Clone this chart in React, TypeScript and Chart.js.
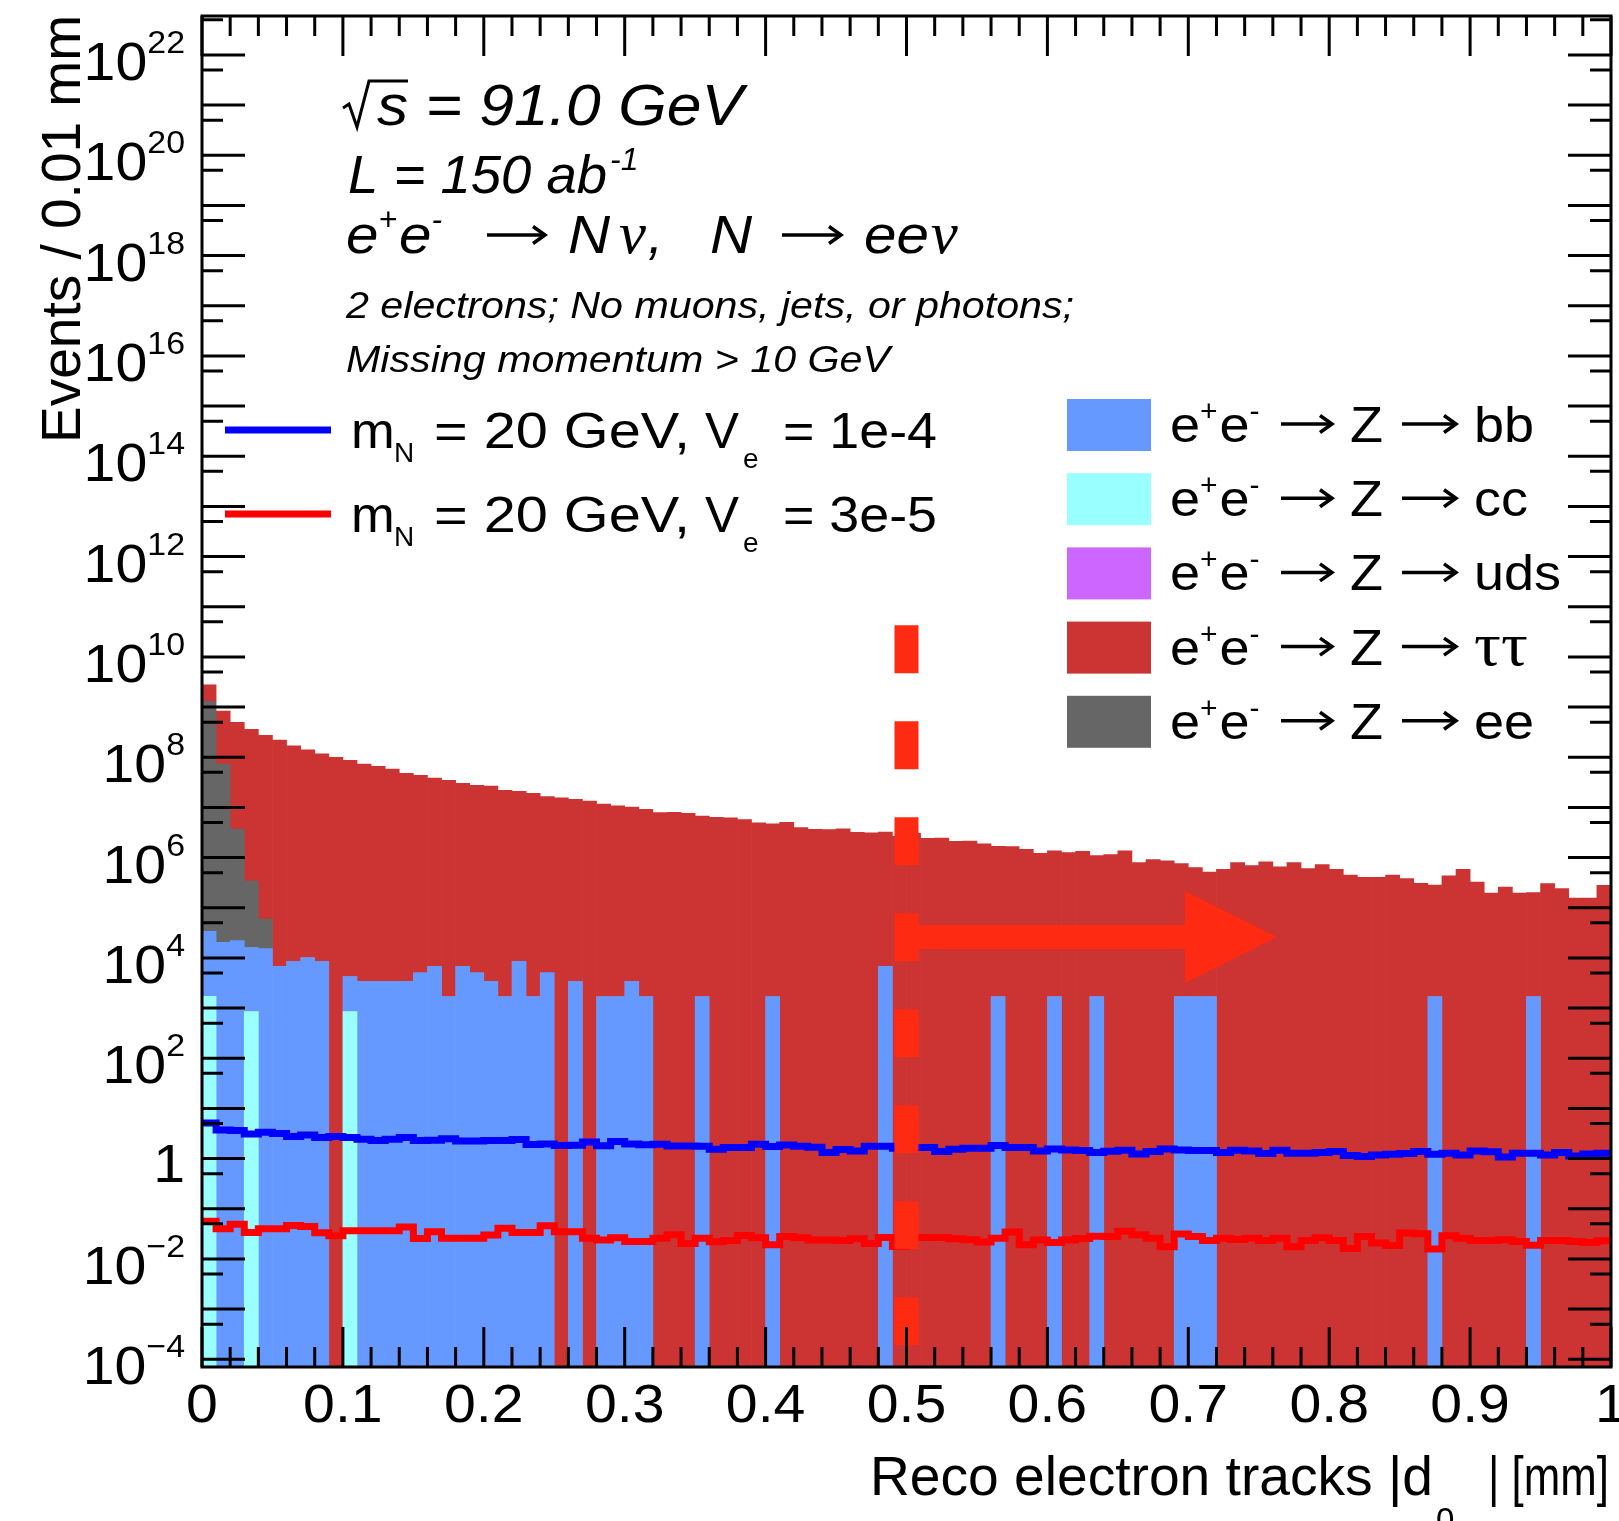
import React, { useEffect, useRef } from "react";
import { Chart, registerables } from "chart.js";

Chart.register(...registerables);

// ---------------- axis definitions ----------------
const X_MIN = 0;
const X_MAX = 1;
const N_BINS = 100;
const Y_MIN = 7.5e-5;
const Y_MAX = 5.97e22;

const X_TICK_VALUES = [0, 0.1, 0.2, 0.3, 0.4, 0.5, 0.6, 0.7, 0.8, 0.9, 1];
const X_TICK_LABELS = ["0", "0.1", "0.2", "0.3", "0.4", "0.5", "0.6", "0.7", "0.8", "0.9", "1"];
const Y_LABEL_EXPONENTS = [22, 20, 18, 16, 14, 12, 10, 8, 6, 4, 2, 0, -2, -4];

// ---------------- background stack (events / bin) ----------------
const CC = [
  1710, 0, 0, 855, 0, 0, 0, 0, 0, 0,
  855, 0, 0, 0, 0, 0, 0, 0, 0, 0,
  0, 0, 0, 0, 0, 0, 0, 0, 0, 0,
  0, 0, 0, 0, 0, 0, 0, 0, 0, 0,
  0, 0, 0, 0, 0, 0, 0, 0, 0, 0,
  0, 0, 0, 0, 0, 0, 0, 0, 0, 0,
  0, 0, 0, 0, 0, 0, 0, 0, 0, 0,
  0, 0, 0, 0, 0, 0, 0, 0, 0, 0,
  0, 0, 0, 0, 0, 0, 0, 0, 0, 0,
  0, 0, 0, 0, 0, 0, 0, 0, 0, 0,
];

const BB = [
  32300, 20400, 22100, 15300, 15300, 6800, 8500, 10200, 8500, 0,
  3400, 3400, 3400, 3400, 3400, 5100, 6800, 1700, 6800, 5100,
  3400, 1700, 8500, 1700, 5100, 0, 3400, 0, 1700, 1700,
  3400, 1700, 0, 0, 0, 1700, 0, 0, 0, 0,
  1700, 0, 0, 0, 0, 0, 0, 0, 6800, 0,
  0, 0, 0, 0, 0, 0, 1700, 0, 0, 0,
  1700, 0, 0, 1700, 0, 0, 0, 0, 0, 1700,
  1700, 1700, 0, 0, 0, 0, 0, 0, 0, 0,
  0, 0, 0, 0, 0, 0, 0, 1700, 0, 0,
  0, 0, 0, 0, 1700, 0, 0, 0, 0, 0,
];

const UDS = [
  0, 0, 0, 0, 0, 0, 0, 0, 0, 0,
  0, 0, 0, 0, 0, 0, 0, 0, 0, 0,
  0, 0, 0, 0, 0, 0, 0, 0, 0, 0,
  0, 0, 0, 0, 0, 0, 0, 0, 0, 0,
  0, 0, 0, 0, 0, 0, 0, 0, 0, 0,
  0, 0, 0, 0, 0, 0, 0, 0, 0, 0,
  0, 0, 0, 0, 0, 0, 0, 0, 0, 0,
  0, 0, 0, 0, 0, 0, 0, 0, 0, 0,
  0, 0, 0, 0, 0, 0, 0, 0, 0, 0,
  0, 0, 0, 0, 0, 0, 0, 0, 0, 0,
];

const EE = [
  1.30e9, 7.33e7, 3.66e6, 3.22e5, 4.4e4, 0, 0, 0, 0, 0,
  0, 0, 0, 0, 0, 0, 0, 0, 0, 0,
  0, 0, 0, 0, 0, 0, 0, 0, 0, 0,
  0, 0, 0, 0, 0, 0, 0, 0, 0, 0,
  0, 0, 0, 0, 0, 0, 0, 0, 0, 0,
  0, 0, 0, 0, 0, 0, 0, 0, 0, 0,
  0, 0, 0, 0, 0, 0, 0, 0, 0, 0,
  0, 0, 0, 0, 0, 0, 0, 0, 0, 0,
  0, 0, 0, 0, 0, 0, 0, 0, 0, 0,
  0, 0, 0, 0, 0, 0, 0, 0, 0, 0,
];

const TAUTAU = [
  1.48e9, 7.6e8, 4.92e8, 3.59e8, 2.73e8, 2.20e8, 1.69e8, 1.41e8, 1.17e8, 9.95e7,
  8.67e7, 7.33e7, 6.58e7, 5.82e7, 4.79e7, 4.37e7, 3.85e7, 3.47e7, 3.02e7, 2.75e7,
  2.67e7, 2.19e7, 2.09e7, 1.91e7, 1.64e7, 1.56e7, 1.45e7, 1.34e7, 1.17e7, 1.07e7,
  1.02e7, 9.18e6, 7.85e6, 7.98e6, 7.62e6, 6.75e6, 6.35e6, 6.17e6, 5.70e6, 4.90e6,
  4.68e6, 5.06e6, 3.95e6, 3.66e6, 3.61e6, 3.72e6, 3.20e6, 3.10e6, 3.20e6, 2.66e6,
  3.05e6, 2.43e6, 2.46e6, 2.11e6, 2.14e6, 1.87e6, 1.68e6, 1.65e6, 1.46e6, 1.22e6,
  1.36e6, 1.26e6, 1.33e6, 1.09e6, 1.15e6, 1.36e6, 7.94e5, 9.12e5, 8.59e5, 7.57e5,
  6.31e5, 5.11e5, 5.86e5, 7.94e5, 6.92e5, 8.20e5, 6.52e5, 7.94e5, 6.03e5, 7.24e5,
  5.86e5, 4.46e5, 4.06e5, 4.06e5, 4.46e5, 3.81e5, 3.08e5, 2.81e5, 4.32e5, 5.86e5,
  3.23e5, 1.95e5, 2.57e5, 1.95e5, 1.98e5, 3.03e5, 2.41e5, 1.55e5, 1.55e5, 2.81e5,
];

// ---------------- signal histograms ----------------
const SIG_VE_1E4 = [
  5.14, 3.73, 3.61, 3.10, 3.35, 3.15, 2.74, 2.96, 2.62, 2.74,
  2.62, 2.43, 2.28, 2.43, 2.62, 2.28, 2.32, 2.47, 2.25, 2.25,
  2.28, 2.28, 2.39, 1.90, 1.96, 1.82, 1.84, 2.15, 1.80, 2.18,
  1.96, 1.89, 1.93, 1.79, 1.79, 1.77, 1.53, 1.66, 1.66, 1.93,
  1.74, 1.87, 1.77, 1.68, 1.32, 1.51, 1.42, 1.77, 1.77, 1.61,
  1.66, 1.66, 1.38, 1.53, 1.61, 1.61, 1.82, 1.66, 1.66, 1.42,
  1.56, 1.49, 1.45, 1.32, 1.40, 1.47, 1.24, 1.38, 1.56, 1.49,
  1.45, 1.45, 1.32, 1.47, 1.42, 1.26, 1.47, 1.28, 1.28, 1.32,
  1.38, 1.15, 1.10, 1.18, 1.22, 1.26, 1.38, 1.22, 1.28, 1.18,
  1.42, 1.36, 1.08, 1.28, 1.28, 1.18, 1.32, 1.13, 1.24, 1.28,
];

const SIG_VE_3E5 = [
  0.0565, 0.0398, 0.0492, 0.0337, 0.0398, 0.0398, 0.0463, 0.0443, 0.0333, 0.0290,
  0.0364, 0.0364, 0.0364, 0.0364, 0.0430, 0.0256, 0.0348, 0.0259, 0.0259, 0.0259,
  0.0298, 0.0410, 0.0337, 0.0337, 0.0457, 0.0348, 0.0348, 0.0259, 0.0237, 0.0264,
  0.0223, 0.0223, 0.0259, 0.0303, 0.0203, 0.0259, 0.0219, 0.0233, 0.0294, 0.0264,
  0.0191, 0.0281, 0.0264, 0.0237, 0.0237, 0.0233, 0.0252, 0.0203, 0.0268, 0.0177,
  0.0268, 0.0268, 0.0268, 0.0252, 0.0240, 0.0216, 0.0259, 0.0342, 0.0191, 0.0237,
  0.0213, 0.0237, 0.0256, 0.0284, 0.0281, 0.0355, 0.0303, 0.0259, 0.0175, 0.0312,
  0.0281, 0.0233, 0.0259, 0.0244, 0.0259, 0.0233, 0.0259, 0.0175, 0.0233, 0.0264,
  0.0233, 0.0162, 0.0281, 0.0207, 0.0185, 0.0327, 0.0317, 0.0157, 0.0289, 0.0259,
  0.0233, 0.0233, 0.0240, 0.0223, 0.0188, 0.0233, 0.0233, 0.0223, 0.0213, 0.0230,
];

// ---------------- selection cut annotation ----------------
const CUT_X = 0.5;
const CUT_Y_TOP = 4.3e10;
const CUT_Y_BOTTOM = 1.9e-4;
const ARROW_Y = 2.6e4;
const ARROW_X_END = 0.763;

// ---------------- styles ----------------
const COL_BB = "#6699ff";
const COL_CC = "#99ffff";
const COL_UDS = "#cc66ff";
const COL_TT = "#cc3333";
const COL_EE = "#666666";
const COL_SIG1 = "#0000ff";
const COL_SIG2 = "#ff0000";
const COL_CUT = "#ff2a12";

const SANS = '"Liberation Sans", Arial, Helvetica, sans-serif';
const SERIF = '"Liberation Serif", "DejaVu Serif", serif';

const BIN_W = (X_MAX - X_MIN) / N_BINS;
const binCenter = (i: number) => X_MIN + (i + 0.5) * BIN_W;
const binLow = (i: number) => X_MIN + i * BIN_W;

const barData = (arr: number[]) => arr.map((v, i) => ({ x: binCenter(i), y: v > 0 ? v : null }));
const stepData = (arr: number[]) => {
  const pts = arr.map((v, i) => ({ x: binLow(i), y: v }));
  pts.push({ x: X_MAX, y: arr[arr.length - 1] });
  return pts;
};

type PutOpts = {
  italic?: boolean;
  align?: "left" | "right" | "center";
  width?: number;
  sx?: number;
  family?: string;
  color?: string;
};

function put(ctx: CanvasRenderingContext2D, s: string, x: number, y: number, size: number, o: PutOpts = {}) {
  ctx.save();
  ctx.font = `${o.italic ? "italic " : ""}${size}px ${o.family || SANS}`;
  ctx.fillStyle = o.color || "#000";
  ctx.textAlign = "left";
  ctx.textBaseline = "alphabetic";
  const m = ctx.measureText(s).width;
  const sx = o.width ? o.width / m : o.sx ?? 1;
  const w = m * sx;
  const x0 = o.align === "right" ? x - w : o.align === "center" ? x - w / 2 : x;
  ctx.translate(x0, y);
  ctx.scale(sx, 1);
  ctx.fillText(s, 0, 0);
  ctx.restore();
  return { x0, x1: x0 + w };
}

// long "rightarrow" symbol as drawn by ROOT's symbol font
function rarrow(ctx: CanvasRenderingContext2D, x0: number, x1: number, y: number) {
  ctx.save();
  ctx.strokeStyle = "#000";
  ctx.lineWidth = 3.5;
  ctx.lineCap = "butt";
  ctx.lineJoin = "miter";
  ctx.beginPath();
  ctx.moveTo(x0, y);
  ctx.lineTo(x1 - 1.5, y);
  ctx.stroke();
  ctx.beginPath();
  ctx.moveTo(x1 - 12, y - 8.5);
  ctx.lineTo(x1, y);
  ctx.lineTo(x1 - 12, y + 8.5);
  ctx.stroke();
  ctx.restore();
}

const decorPlugin = {
  id: "rootDecor",
  afterDatasetsDraw(chart: any) {
    const ctx: CanvasRenderingContext2D = chart.ctx;
    const xs = chart.scales.x;
    const ys = chart.scales.y;
    // arrow of the cut
    const xc = xs.getPixelForValue(CUT_X);
    const xt = xs.getPixelForValue(ARROW_X_END);
    const ya = ys.getPixelForValue(ARROW_Y);
    const headL = 92;
    const headH = 46;
    ctx.save();
    ctx.fillStyle = COL_CUT;
    ctx.fillRect(xc, ya - 12, xt - headL - xc, 24);
    ctx.beginPath();
    ctx.moveTo(xt - headL, ya - headH);
    ctx.lineTo(xt, ya);
    ctx.lineTo(xt - headL, ya + headH);
    ctx.closePath();
    ctx.fill();
    ctx.restore();
  },
  afterDraw(chart: any) {
    const ctx: CanvasRenderingContext2D = chart.ctx;
    const xs = chart.scales.x;
    const ys = chart.scales.y;
    const { left, right, top, bottom } = chart.chartArea;
    ctx.save();
    ctx.strokeStyle = "#000";
    ctx.lineCap = "butt";
    ctx.lineWidth = 3;
    ctx.beginPath();
    // x ticks (every 0.02, long every 0.1) bottom & top
    for (let i = 0; i <= 50; i++) {
      const v = X_MIN + i * 0.02;
      const px = xs.getPixelForValue(v);
      const len = i % 5 === 0 ? 40 : 20;
      ctx.moveTo(px, bottom);
      ctx.lineTo(px, bottom - len);
      ctx.moveTo(px, top);
      ctx.lineTo(px, top + len);
    }
    // y ticks: long at decades, short at 5x decades
    for (let k = -6; k <= 23; k++) {
      const vals: [number, number][] = [
        [Math.pow(10, k), 43],
        [5 * Math.pow(10, k), 21],
      ];
      for (const [v, len] of vals) {
        if (v < Y_MIN || v > Y_MAX) continue;
        const py = ys.getPixelForValue(v);
        ctx.moveTo(left, py);
        ctx.lineTo(left + len, py);
        ctx.moveTo(right, py);
        ctx.lineTo(right - len, py);
      }
    }
    ctx.stroke();
    ctx.strokeRect(left, top, right - left, bottom - top);
    ctx.restore();

    // y tick labels
    const SXT = 1.06;
    for (const e of Y_LABEL_EXPONENTS) {
      const py = ys.getPixelForValue(Math.pow(10, e));
      if (e === 0) {
        put(ctx, "1", 185, py + 23, 54, { align: "right", sx: SXT });
        continue;
      }
      const sup = e < 0 ? "\u2212" + String(-e) : String(e);
      const r = put(ctx, sup, 185, py - 2, 32, { align: "right", sx: SXT });
      put(ctx, "10", r.x0, py + 25, 54, { align: "right", sx: SXT });
    }
    // x tick labels
    X_TICK_VALUES.forEach((v, i) => {
      put(ctx, X_TICK_LABELS[i], xs.getPixelForValue(v), 1422, 54, { align: "center", sx: SXT });
    });

    // axis titles
    put(ctx, "Reco electron tracks |d", 870, 1495, 55, { width: 563 });
    put(ctx, "0", 1436, 1531, 33);
    put(ctx, "| [mm]", 1488, 1495, 55, { width: 121 });

    ctx.save();
    ctx.translate(80, 443);
    ctx.rotate(-Math.PI / 2);
    put(ctx, "Events / 0.01 mm", 0, 0, 55, { width: 428 });
    ctx.restore();

    // header texts
    ctx.save();
    ctx.strokeStyle = "#000";
    ctx.lineWidth = 3;
    ctx.lineJoin = "miter";
    ctx.beginPath();
    ctx.moveTo(343, 108);
    ctx.lineTo(349, 104);
    ctx.lineTo(357, 127);
    ctx.lineTo(369, 81);
    ctx.lineTo(408, 81);
    ctx.stroke();
    ctx.restore();
    put(ctx, "s = 91.0 GeV", 377, 125, 57, { italic: true, width: 366 });

    put(ctx, "L = 150 ab", 348, 193, 54, { italic: true, width: 259 });
    put(ctx, "-1", 610, 170, 32, { italic: true });

    // e+e- -> N nu, N -> e e nu
    let r = put(ctx, "e", 346, 253, 54, { italic: true, sx: 1.08 });
    r = put(ctx, "+", r.x1, 230, 32, { italic: true });
    r = put(ctx, "e", r.x1 + 2, 253, 54, { italic: true, sx: 1.08 });
    put(ctx, "-", r.x1, 230, 32, { italic: true });
    rarrow(ctx, 487, 545, 235);
    put(ctx, "N", 568, 253, 54, { italic: true, sx: 1.08 });
    put(ctx, "\u03bd", 619, 253, 60, { italic: true, family: SERIF, width: 27 });
    put(ctx, ",", 648, 253, 54, { italic: true });
    put(ctx, "N", 710, 253, 54, { italic: true, sx: 1.08 });
    rarrow(ctx, 782, 841, 235);
    r = put(ctx, "ee", 864, 253, 54, { italic: true, sx: 1.08 });
    put(ctx, "\u03bd", r.x1 + 2, 253, 60, { italic: true, family: SERIF, width: 27 });

    put(ctx, "2 electrons; No muons, jets, or photons;", 346, 318, 36, { italic: true, width: 728 });
    put(ctx, "Missing momentum > 10 GeV", 346, 372, 36, { italic: true, width: 544 });

    // left legend (signals)
    const sigRows = [
      { color: COL_SIG1, y: 430, label: "= 1e-4" },
      { color: COL_SIG2, y: 514, label: "= 3e-5" },
    ];
    for (const row of sigRows) {
      const base = row.y + 18;
      ctx.save();
      ctx.strokeStyle = row.color;
      ctx.lineWidth = 7;
      ctx.beginPath();
      ctx.moveTo(225, row.y);
      ctx.lineTo(331, row.y);
      ctx.stroke();
      ctx.restore();
      put(ctx, "m", 351, base, 50, { sx: 1.05 });
      put(ctx, "N", 394, base + 14, 28);
      put(ctx, "= 20 GeV,", 434, base, 50, { width: 256 });
      put(ctx, "V", 705, base, 50, { width: 34 });
      put(ctx, "e", 743, base + 20, 28);
      put(ctx, row.label, 783, base, 50, { width: 154 });
    }

    // right legend (backgrounds)
    const bgRows = [
      { color: COL_BB, label: "bb", fam: SANS, size: 50 },
      { color: COL_CC, label: "cc", fam: SANS, size: 50 },
      { color: COL_UDS, label: "uds", fam: SANS, size: 50 },
      { color: COL_TT, label: "\u03c4\u03c4", fam: SERIF, size: 62 },
      { color: COL_EE, label: "ee", fam: SANS, size: 50 },
    ];
    bgRows.forEach((row, i) => {
      const cy = 425 + i * 74.2;
      const base = cy + 17;
      ctx.save();
      ctx.fillStyle = row.color;
      ctx.fillRect(1067, cy - 26, 84, 52);
      ctx.restore();
      let q = put(ctx, "e", 1170, base, 50, { sx: 1.08 });
      q = put(ctx, "+", q.x1, base - 21, 30);
      q = put(ctx, "e", q.x1 + 2, base, 50, { sx: 1.08 });
      put(ctx, "-", q.x1, base - 21, 30);
      rarrow(ctx, 1281, 1332, base - 18);
      put(ctx, "Z", 1350, base, 50, { sx: 1.08 });
      rarrow(ctx, 1402, 1456, base - 18);
      put(ctx, row.label, 1474, base, row.size, { sx: 1.08, family: row.fam });
    });
  },
};

export default function App() {
  const ref = useRef<HTMLCanvasElement>(null);
  useEffect(() => {
    const canvas = ref.current;
    if (!canvas) return;
    const barCommon = {
      type: "bar" as const,
      barPercentage: 1,
      categoryPercentage: 1,
      borderWidth: 0,
      order: 0,
    };
    const chart = new Chart(canvas, {
      type: "bar",
      data: {
        datasets: [
          { ...barCommon, label: "cc", data: barData(CC), backgroundColor: COL_CC },
          { ...barCommon, label: "bb", data: barData(BB), backgroundColor: COL_BB },
          { ...barCommon, label: "uds", data: barData(UDS), backgroundColor: COL_UDS },
          { ...barCommon, label: "ee", data: barData(EE), backgroundColor: COL_EE },
          { ...barCommon, label: "tautau", data: barData(TAUTAU), backgroundColor: COL_TT },
          {
            type: "line",
            label: "sig1",
            stack: "sig1",
            data: stepData(SIG_VE_1E4),
            borderColor: COL_SIG1,
            borderWidth: 7,
            stepped: true,
            pointRadius: 0,
            fill: false,
            borderJoinStyle: "miter",
            borderCapStyle: "butt",
            order: -1,
          },
          {
            type: "line",
            label: "sig2",
            stack: "sig2",
            data: stepData(SIG_VE_3E5),
            borderColor: COL_SIG2,
            borderWidth: 7,
            stepped: true,
            pointRadius: 0,
            fill: false,
            borderJoinStyle: "miter",
            borderCapStyle: "butt",
            order: -1,
          },
          {
            type: "line",
            label: "cut",
            stack: "cut",
            data: [
              { x: CUT_X, y: CUT_Y_TOP },
              { x: CUT_X, y: CUT_Y_BOTTOM },
            ],
            borderColor: COL_CUT,
            borderWidth: 24,
            borderDash: [48, 48],
            borderCapStyle: "butt",
            pointRadius: 0,
            fill: false,
            order: -2,
          },
        ] as any,
      },
      options: {
        animation: false,
        responsive: false,
        maintainAspectRatio: false,
        devicePixelRatio: 1,
        layout: { padding: { left: 202, top: 16, right: 8, bottom: 154 } },
        plugins: { legend: { display: false }, tooltip: { enabled: false } },
        scales: {
          x: { type: "linear", min: X_MIN, max: X_MAX, offset: false, stacked: true, display: false },
          y: { type: "logarithmic", min: Y_MIN, max: Y_MAX, stacked: true, display: false },
        },
      } as any,
      plugins: [decorPlugin],
    });
    return () => chart.destroy();
  }, []);
  return (
    <canvas
      ref={ref}
      width={1619}
      height={1521}
      style={{ position: "fixed", left: 0, top: 0, width: 1619, height: 1521 }}
    />
  );
}
